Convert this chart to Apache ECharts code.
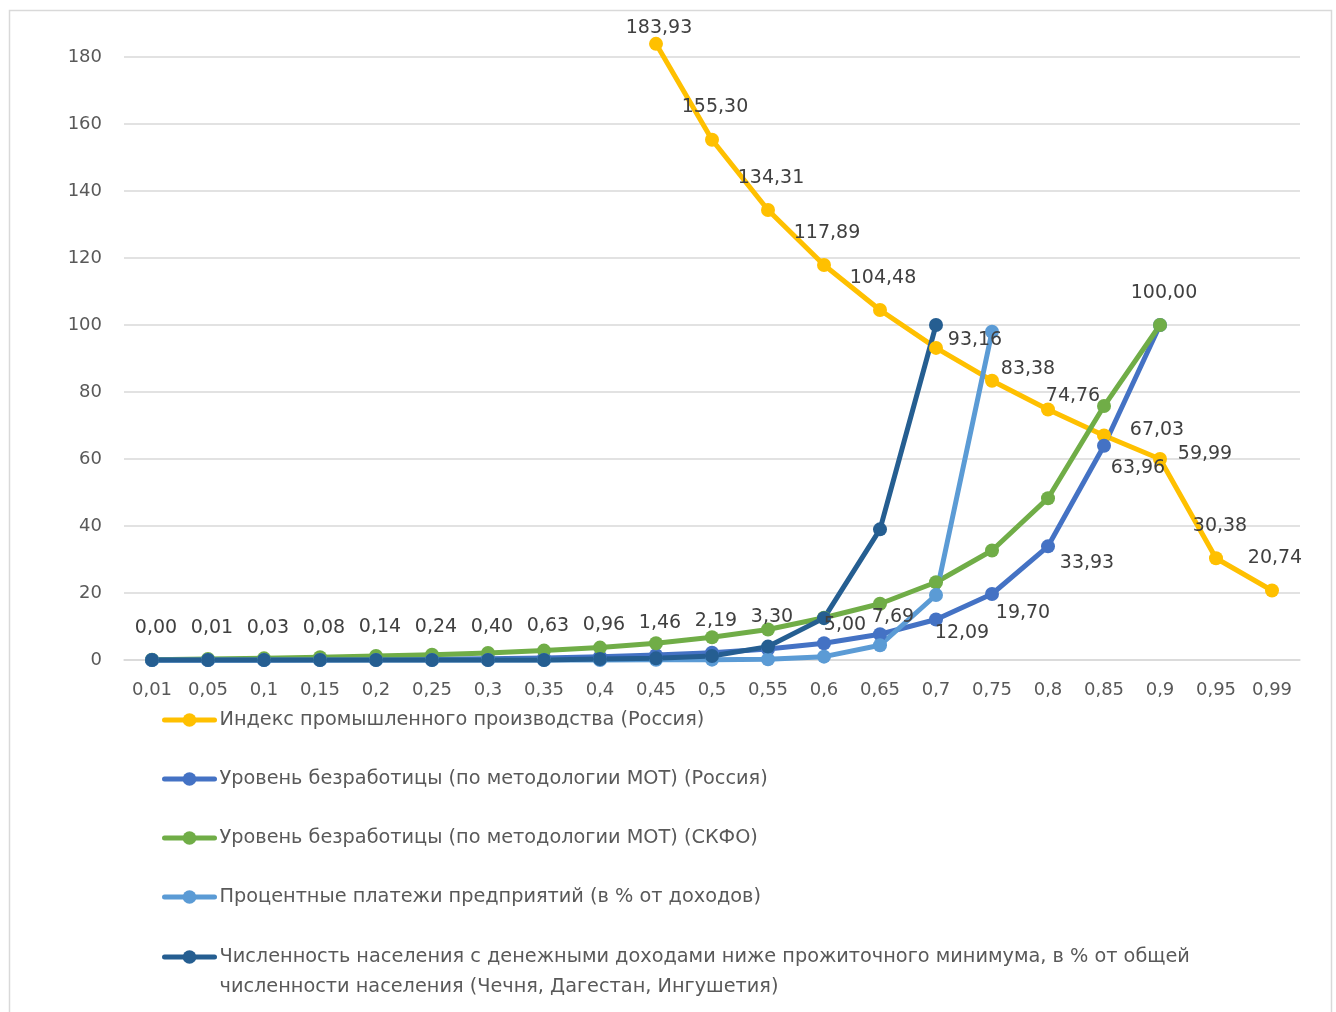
<!DOCTYPE html>
<html lang="ru">
<head>
<meta charset="utf-8">
<title>Индикаторы</title>
<script src="https://cdn.jsdelivr.net/npm/echarts@6/dist/echarts.min.js"></script>
<style>
  html, body { margin: 0; padding: 0; background: #ffffff; }
  #chart { width: 1336px; height: 1012px; }
</style>
</head>
<body>
<div id="chart"></div>
<script>
// Category axis (quantile levels)
const categories = ['0,01', '0,05', '0,1', '0,15', '0,2', '0,25', '0,3', '0,35', '0,4', '0,45',
  '0,5', '0,55', '0,6', '0,65', '0,7', '0,75', '0,8', '0,85', '0,9', '0,95', '0,99'];

// Series values
const industrialIndex = [null, null, null, null, null, null, null, null, null,
  183.93, 155.30, 134.31, 117.89, 104.48, 93.16, 83.38, 74.76, 67.03, 59.99, 30.38, 20.74];
const unemploymentRussia = [0.00, 0.01, 0.03, 0.08, 0.14, 0.24, 0.40, 0.63, 0.96, 1.46,
  2.19, 3.30, 5.00, 7.69, 12.09, 19.70, 33.93, 63.96, 100.00, null, null];
const unemploymentNCFD = [0.1, 0.3, 0.5, 0.8, 1.2, 1.6, 2.1, 2.8, 3.7, 5.0,
  6.8, 9.1, 12.6, 16.8, 23.2, 32.7, 48.3, 75.8, 100.00, null, null];
const interestPayments = [0, 0, 0, 0, 0, 0, 0, 0, 0, 0.05,
  0.1, 0.2, 1.0, 4.4, 19.4, 98.0, null, null, null, null, null];
const povertyShare = [0, 0, 0, 0, 0, 0, 0, 0, 0.3, 0.5,
  1.2, 4.0, 12.5, 39.0, 100.0, null, null, null, null, null, null];

// Series names
const seriesNames = [
  'Индекс промышленного производства (Россия)',
  'Уровень безработицы (по методологии МОТ) (Россия)',
  'Уровень безработицы (по методологии МОТ) (СКФО)',
  'Процентные платежи предприятий (в % от доходов)',
  'Численность населения с денежными доходами ниже прожиточного минимума, в % от общей численности населения (Чечня, Дагестан, Ингушетия)'
];

// Label placement (pixel shift of each value label from its point)
const industrialLabelShift = [null, null, null, null, null, null, null, null, null,
  [3, -16], [3, -33], [3, -32], [3, -32], [3, -32], [39, -8], [36, -12], [25, -13], [53, -5], [45, -5], [4, -32], [3, -32]];
const unemploymentLabelShift = [[4, -32], [4, -32], [4, -32], [4, -32], [4, -32], [4, -32], [4, -32], [4, -32], [4, -32], [4, -32],
  [4, -32], [4, -32], [21, -18], [13, -17], [26, 14], [31, 19], [39, 17], [34, 22], [4, -32], null, null];

const colors = ['#FFC000', '#4472C4', '#70AD47', '#5B9BD5', '#255E91'];
const FONT = 'DejaVu Sans';
const LEGEND_SIZE = 19.3;

function fmt(v) { return v.toFixed(2).replace('.', ','); }

function withLabels(values, shifts) {
  return values.map((v, i) => v == null ? null : {
    value: v,
    label: { show: true, position: 'inside', offset: shifts[i], formatter: p => fmt(p.value) }
  });
}

function lineSeries(name, data, color) {
  return {
    name: name,
    type: 'line',
    data: data,
    color: color,
    clip: false,
    symbol: 'circle',
    symbolSize: 14,
    connectNulls: false,
    lineStyle: { width: 5, color: color, cap: 'round', join: 'round' },
    itemStyle: { color: color, borderWidth: 0 },
    label: { fontFamily: FONT, fontSize: 19, color: '#404040' },
    emphasis: { disabled: true },
    animation: false
  };
}

const legendBase = {
  orient: 'vertical',
  left: 157,
  itemWidth: 50, itemHeight: 17,
  lineStyle: { width: 5, cap: 'round' },
  selectedMode: false
};

const chart = echarts.init(document.getElementById('chart'), null, { renderer: 'canvas' });

chart.setOption({
  backgroundColor: '#ffffff',
  animation: false,
  graphic: [{
    type: 'rect',
    left: 7, top: 8,
    shape: { width: 1322, height: 1100 },
    style: { fill: 'none', stroke: '#D9D9D9', lineWidth: 1.5 },
    silent: true
  }],
  grid: { left: 124, right: 36, top: 57, bottom: 352, outerBoundsMode: 'none' },
  xAxis: {
    type: 'category',
    data: categories,
    boundaryGap: true,
    axisLine: { show: true, lineStyle: { color: '#D9D9D9', width: 1.5 } },
    axisTick: { show: false },
    axisLabel: { color: '#595959', fontFamily: FONT, fontSize: 18, margin: 21, interval: 0 }
  },
  yAxis: {
    type: 'value',
    min: 0, max: 180, interval: 20,
    axisLine: { show: false },
    axisTick: { show: false },
    axisLabel: { color: '#595959', fontFamily: FONT, fontSize: 18, margin: 22 },
    splitLine: { lineStyle: { color: '#D9D9D9', width: 1.5 } }
  },
  legend: [Object.assign({}, legendBase, {
    data: seriesNames.slice(0, 4),
    top: 700,
    itemGap: 29,
    textStyle: { fontFamily: FONT, fontSize: LEGEND_SIZE, color: '#595959', lineHeight: 30 }
  }), Object.assign({}, legendBase, {
    data: [seriesNames[4]],
    top: 907,
    formatter: name => {
      const lines = name.replace('общей ', 'общей\n').split('\n');
      return '{e| }\n' + lines.map(l => '{t|' + l + '}').join('\n');
    },
    textStyle: {
      fontFamily: FONT, fontSize: LEGEND_SIZE, color: '#595959', lineHeight: 30,
      rich: {
        e: { fontFamily: FONT, fontSize: LEGEND_SIZE, lineHeight: 30 },
        t: { fontFamily: FONT, fontSize: LEGEND_SIZE, color: '#595959', lineHeight: 30 }
      }
    }
  })],
  series: [
    lineSeries(seriesNames[0], withLabels(industrialIndex, industrialLabelShift), colors[0]),
    lineSeries(seriesNames[1], withLabels(unemploymentRussia, unemploymentLabelShift), colors[1]),
    lineSeries(seriesNames[2], unemploymentNCFD, colors[2]),
    lineSeries(seriesNames[3], interestPayments, colors[3]),
    lineSeries(seriesNames[4], povertyShare, colors[4])
  ]
});
</script>
</body>
</html>
